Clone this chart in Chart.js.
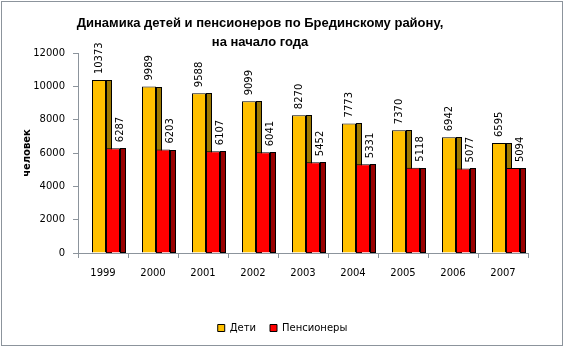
<!DOCTYPE html>
<html>
<head>
<meta charset="utf-8">
<script src="https://cdn.jsdelivr.net/npm/chart.js@4"></script>
<style>
  html, body { margin: 0; padding: 0; background: #fff; }
  #wrap { width: 565px; height: 347px; position: relative; }
</style>
</head>
<body>
<div id="wrap"><canvas id="myChart" width="565" height="347"></canvas></div>
<script>
const years = ['1999', '2000', '2001', '2002', '2003', '2004', '2005', '2006', '2007'];
const children = [10373, 9989, 9588, 9099, 8270, 7773, 7370, 6942, 6595];
const pensioners = [6287, 6203, 6107, 6041, 5452, 5331, 5118, 5077, 5094];
const yTicks = [0, 2000, 4000, 6000, 8000, 10000, 12000];
const titleLines = ['Динамика детей и пенсионеров по Брединскому району,', 'на начало года'];

const sideColors = ['#9C7800', '#990000'];
const labelShift = [0, 7];

// 3D-ish side faces, bar value labels, title and frame
const decor = {
    id: 'decor',
    afterDatasetsUpdate(chart) {
        chart.data.datasets.forEach((ds, i) => {
            chart.getDatasetMeta(i).data.forEach(bar => { bar.x += 3; });
        });
    },
    beforeDatasetsDraw(chart) {
        const ctx = chart.ctx;
        ctx.save();
        chart.data.datasets.forEach((ds, i) => {
            chart.getDatasetMeta(i).data.forEach(bar => {
                const x = Math.round(bar.x + bar.width / 2);
                const y = Math.round(bar.y);
                const h = Math.round(bar.base) - y;
                ctx.fillStyle = sideColors[i];
                ctx.fillRect(x, y, 6, h);
                ctx.strokeStyle = '#000';
                ctx.lineWidth = 1;
                ctx.strokeRect(x + 0.5, y + 0.5, 5, h - 1);
            });
        });
        ctx.restore();
    },
    afterDatasetsDraw(chart) {
        const ctx = chart.ctx;
        ctx.save();
        ctx.font = '10px "DejaVu Sans"';
        ctx.fillStyle = '#000';
        ctx.textAlign = 'left';
        ctx.textBaseline = 'middle';
        chart.data.datasets.forEach((ds, i) => {
            chart.getDatasetMeta(i).data.forEach((bar, j) => {
                ctx.save();
                ctx.translate(bar.x + labelShift[i], bar.y - 6);
                ctx.rotate(-Math.PI / 2);
                ctx.fillText(String(ds.data[j]), 0, 0);
                ctx.restore();
            });
        });
        ctx.restore();
    },
    afterDraw(chart) {
        const ctx = chart.ctx;
        ctx.save();
        ctx.font = 'bold 13px "Liberation Sans"';
        ctx.fillStyle = '#000';
        ctx.textAlign = 'center';
        ctx.textBaseline = 'middle';
        ctx.fillText(titleLines[0], 260, 23);
        ctx.fillText(titleLines[1], 260, 42);
        ctx.strokeStyle = '#8C949C';
        ctx.lineWidth = 1;
        ctx.strokeRect(1.5, 1.5, 561, 344);
        ctx.restore();
    }
};

new Chart(document.getElementById('myChart'), {
    type: 'bar',
    data: {
        labels: years,
        datasets: [{
            label: 'Дети',
            data: children,
            backgroundColor: '#FFC000',
            borderColor: '#000',
            borderWidth: 1,
            categoryPercentage: 0.56,
            barPercentage: 1
        }, {
            label: 'Пенсионеры',
            data: pensioners,
            backgroundColor: '#FF0000',
            borderColor: '#000',
            borderWidth: 1,
            categoryPercentage: 0.56,
            barPercentage: 1
        }]
    },
    options: {
        responsive: false,
        animation: false,
        layout: { padding: { top: 53, right: 0, bottom: 4, left: 0 } },
        scales: {
            x: {
                afterFit: s => { s.height = 56; },
                grid: { drawOnChartArea: false, color: '#8C949C', tickLength: 5 },
                border: { color: '#8C949C' },
                ticks: { color: '#000', font: { family: 'DejaVu Sans', size: 10 }, padding: 9 }
            },
            y: {
                min: 0,
                max: 12000,
                afterFit: s => { s.width = 78; },
                afterBuildTicks: s => { s.ticks = yTicks.map(v => ({ value: v })); },
                grid: { drawOnChartArea: false, color: '#8C949C', tickLength: 5 },
                border: { color: '#8C949C' },
                ticks: {
                    color: '#000',
                    font: { family: 'DejaVu Sans', size: 10 },
                    padding: 8,
                    callback: v => String(v)
                },
                title: {
                    display: true,
                    text: 'человек',
                    color: '#000',
                    font: { family: 'DejaVu Sans', size: 10, weight: 'bold' },
                    padding: { top: 21, bottom: 0 }
                }
            },
            yRight: {
                position: 'right',
                min: 0,
                max: 12000,
                afterFit: s => { s.width = 37; },
                grid: { display: false },
                border: { display: false },
                ticks: { display: false }
            }
        },
        plugins: {
            legend: {
                position: 'bottom',
                labels: {
                    color: '#000',
                    font: { family: 'DejaVu Sans', size: 10 },
                    boxWidth: 7,
                    boxHeight: 7,
                    padding: 14
                }
            },
            tooltip: { enabled: false }
        }
    },
    plugins: [decor]
});
</script>
</body>
</html>
